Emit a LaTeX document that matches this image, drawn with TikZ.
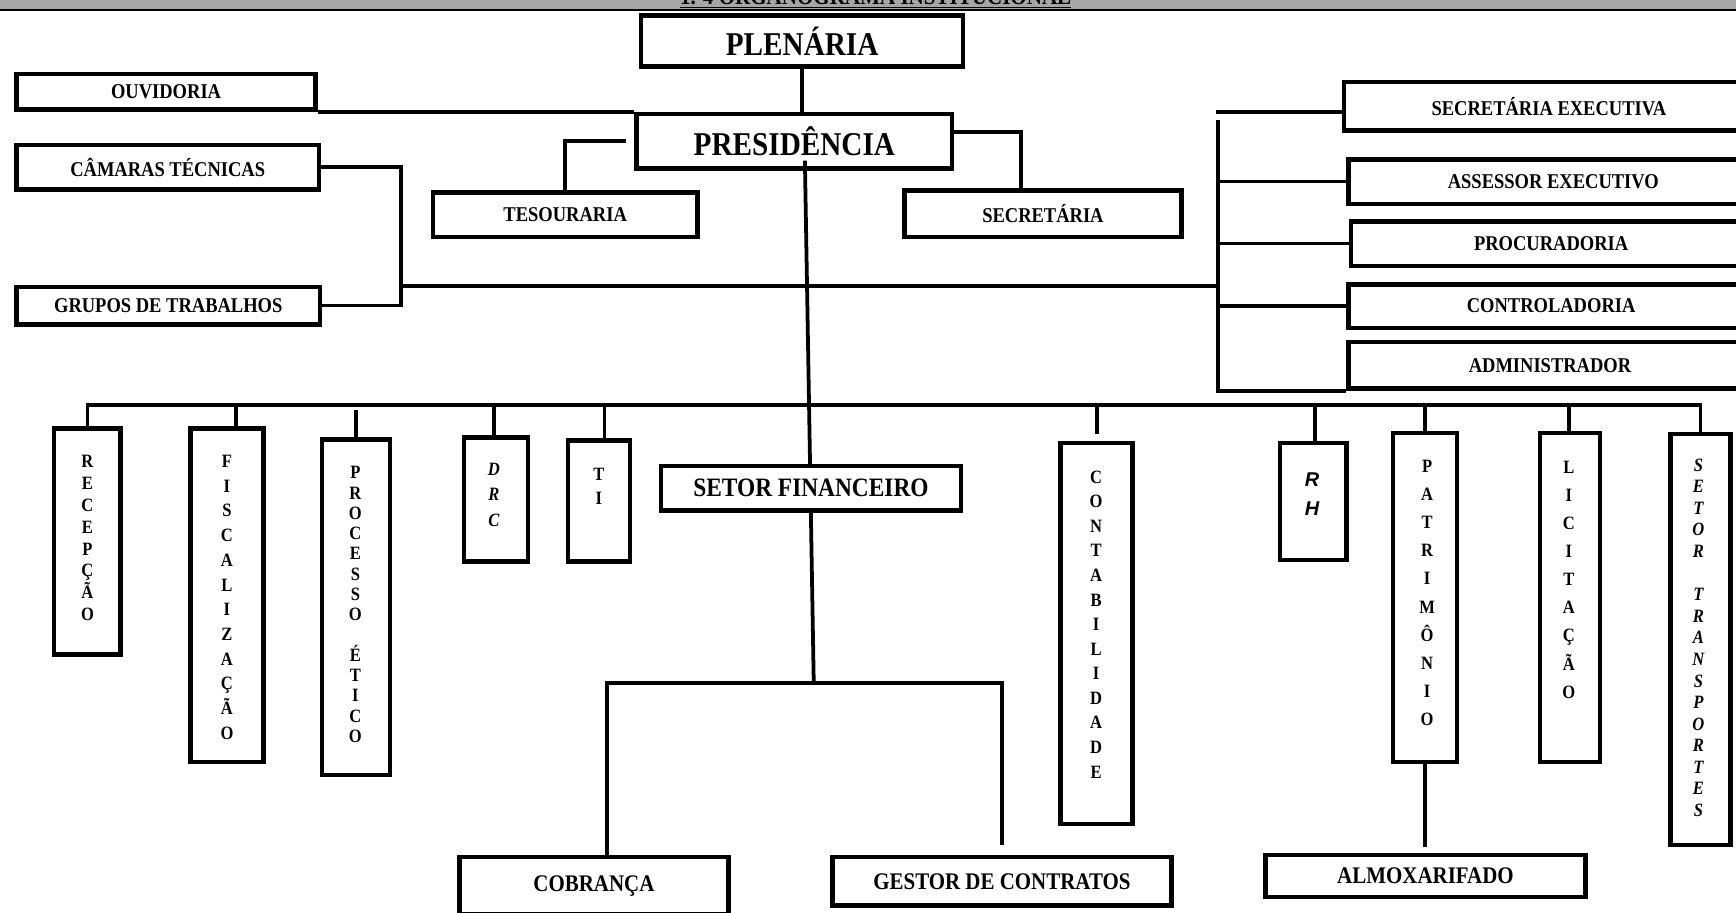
\documentclass[tikz,border=0pt]{standalone}
\usepackage{fontspec}
\setmainfont{Liberation Serif}[FakeStretch=0.88]
\newfontfamily\rhfont{Liberation Sans}

\begin{document}
\begin{tikzpicture}[x=0.5pt,y=-0.5pt]
  \tikzset{block/.style={draw, line width=2pt, fill=white, inner sep=0pt, align=center,
      font=\bfseries\fontsize{9.5}{11}\selectfont},
    boxsize/.style 2 args={minimum width=#1pt, minimum height=#2pt},
    bigtext/.style={font=\bfseries\fontsize{15}{18}\selectfont},
    midtext/.style={font=\bfseries\fontsize{10.75}{13}\selectfont},
    vtext/.style={align=center, inner sep=0pt, font=\bfseries\fontsize{8.5}{#1}\selectfont},
    vital/.style={align=center, inner sep=0pt, font=\bfseries\itshape\fontsize{8.5}{#1}\selectfont},
    link/.style={line width=1.7pt}}
  \useasboundingbox (0,0) rectangle (1568,824);

  % header
  \fill[black!35] (0,0) rectangle (1568,8.4);
  \draw[line width=0.8pt] (0,9.3) -- (1568,9.3);
  \begin{scope}
    \clip (0,0) rectangle (1568,8.4);
    \node[anchor=base, inner sep=0pt, font=\bfseries\fontsize{10.8}{13}\selectfont] (titulo) at (791,4)
      {\underline{1. 4 ORGANOGRAMA INSTITUCIONAL}};
  \end{scope}

  \node[block, bigtext, boxsize={145.5}{23}] (plenaria) at (724.5,37) {PLENÁRIA};
  \node[block, bigtext, boxsize={142.5}{24.5}] (presidencia) at (717.5,127.5) {PRESIDÊNCIA};

  \coordinate (split) at (735,617);
  \draw[link] ([xshift=4.75pt,yshift=4.5pt]presidencia.south) -- (split);

  \node[block, boxsize={135}{16}] (ouvidoria) at (150,83) {OUVIDORIA};
  \node[block, boxsize={136.5}{20}] (camaras) at (151.5,151) {CÂMARAS TÉCNICAS};
  \node[block, boxsize={137}{17}] (grupos) at (152,276) {GRUPOS DE TRABALHOS};
  \node[block, boxsize={119.5}{20}] (tesouraria) at (510.5,194) {TESOURARIA};
  \node[block, boxsize={125}{21}] (secretaria) at (942,193) {SECRETÁRIA};

  \node[block, boxsize={185}{22}] (secexec) at (1399,96) {SECRETÁRIA EXECUTIVA};
  \node[block, boxsize={185}{20}] (assessor) at (1403,164) {ASSESSOR EXECUTIVO};
  \node[block, boxsize={181}{20}] (procuradoria) at (1401,220) {PROCURADORIA};
  \node[block, boxsize={183}{19.5}] (controladoria) at (1401,276.5) {CONTROLADORIA};
  \node[block, boxsize={182}{21}] (administrador) at (1400,330) {ADMINISTRADOR};

  \node[block, font=\bfseries\fontsize{12}{14}\selectfont, boxsize={135.5}{20}] (financeiro) at (732.5,441)
    {SETOR FINANCEIRO};
  \node[block, midtext, boxsize={121.5}{26}] (cobranca) at (536.5,800) {COBRANÇA};
  \node[block, midtext, boxsize={153}{22}] (gestor) at (905,796) {GESTOR DE CONTRATOS};
  \node[block, midtext, boxsize={144.5}{19}] (almox) at (1287.5,791) {ALMOXARIFADO};

  \node[block, boxsize={30}{102}] (recepcao) at (79,489) {};
  \node[block, boxsize={33}{150.5}] (fiscalizacao) at (205,537.5) {};
  \node[block, boxsize={30.5}{151.5}] (processo) at (321.5,548.5) {};
  \node[block, boxsize={29}{56}] (drc) at (448,451) {};
  \node[block, boxsize={28}{54.5}] (ti) at (541,452.5) {};
  \node[block, boxsize={32.5}{172}] (contabilidade) at (990.5,572) {};
  \node[block, boxsize={30}{53}] (rh) at (1186,453) {};
  \node[block, boxsize={29}{148.5}] (patrimonio) at (1287,539.5) {};
  \node[block, boxsize={27}{148.5}] (licitacao) at (1418,539.5) {};
  \node[block, boxsize={27}{185.5}] (transportes) at (1536,577.5) {};

  \node[vtext=9.85pt] (recepcao-txt) at (79,486) {R\\E\\C\\E\\P\\Ç\\Ã\\O};
  \node[vtext=11.15pt] (fiscalizacao-txt) at (205,539.5) {F\\I\\S\\C\\A\\L\\I\\Z\\A\\Ç\\Ã\\O};
  \node[vtext=9.15pt] (processo-txt) at (321,546) {P\\R\\O\\C\\E\\S\\S\\O\\[9.15pt]É\\T\\I\\C\\O};
  \node[vital=11.5pt] (drc-txt) at (446,447) {D\\R\\C};
  \node[vtext=11pt] (ti-txt) at (541,439) {T\\I};
  \node[vtext=11.1pt] (contabilidade-txt) at (990,564) {C\\O\\N\\T\\A\\B\\I\\L\\I\\D\\A\\D\\E};
  \node[align=center, inner sep=0pt, font=\rhfont\bfseries\itshape\fontsize{9}{13}\selectfont] (rh-txt)
    at (1185,446) {R\\H};
  \node[vtext=12.7pt] (patrimonio-txt) at (1289,535.5) {P\\A\\T\\R\\I\\M\\Ô\\N\\I\\O};
  \node[vtext=12.7pt] (licitacao-txt) at (1417,523.5) {L\\I\\C\\I\\T\\A\\Ç\\Ã\\O};
  \node[vital=9.75pt] (transportes-txt) at (1534,576) {S\\E\\T\\O\\R\\[9.75pt]T\\R\\A\\N\\S\\P\\O\\R\\T\\E\\S};

  \draw[link] (plenaria.south) -- (plenaria.south |- presidencia.north);
  \draw[link] (ouvidoria.south east) -- (presidencia.north west);
  \draw[link] ([xshift=-4pt]presidencia.west) -| (tesouraria.north);
  \draw[link] ([yshift=4pt]presidencia.east) -| ([xshift=-10pt]secretaria.north);

  \coordinate (lbr) at (362,258);
  \coordinate (rbr) at (1100,258);
  \coordinate (rtop) at (1100,108);
  \draw[link] (camaras.east) -| (lbr) |- (grupos.east);
  \draw[link] (lbr) -- (rbr);
  \draw[link] (rtop) |- (administrador.south west);
  \draw[link] ([yshift=-2.5pt]secexec.west) -- ([yshift=-2.5pt,xshift=-1pt]secexec.west -| rtop);
  \foreach \n in {assessor, procuradoria, controladoria}
    \draw[link] (\n.west) -- (\n.west -| rtop);

  \coordinate (bus) at (0,366);
  \draw[link] (recepcao.north) -- (recepcao.north |- bus) -- (bus -| transportes.north) -- (transportes.north);
  \foreach \n/\s in {fiscalizacao/4, drc/-1, ti/2.5, rh/1, patrimonio/0, licitacao/-0.5}
    \draw[link] ([xshift=\s pt]\n.north) -- ([xshift=\s pt]\n.north |- bus);
  \draw[link] ([yshift=-2pt]processo.north |- bus) -- (processo.north);
  \draw[link] (contabilidade.north |- bus) -- ([yshift=3pt]contabilidade.north);

  \draw[link] ([xshift=6pt]cobranca.north) |- (split) -| ([yshift=4.5pt]gestor.north);
  \draw[link] (patrimonio.south) -- ([yshift=2.5pt]almox.north -| patrimonio.south);
\end{tikzpicture}
\end{document}
